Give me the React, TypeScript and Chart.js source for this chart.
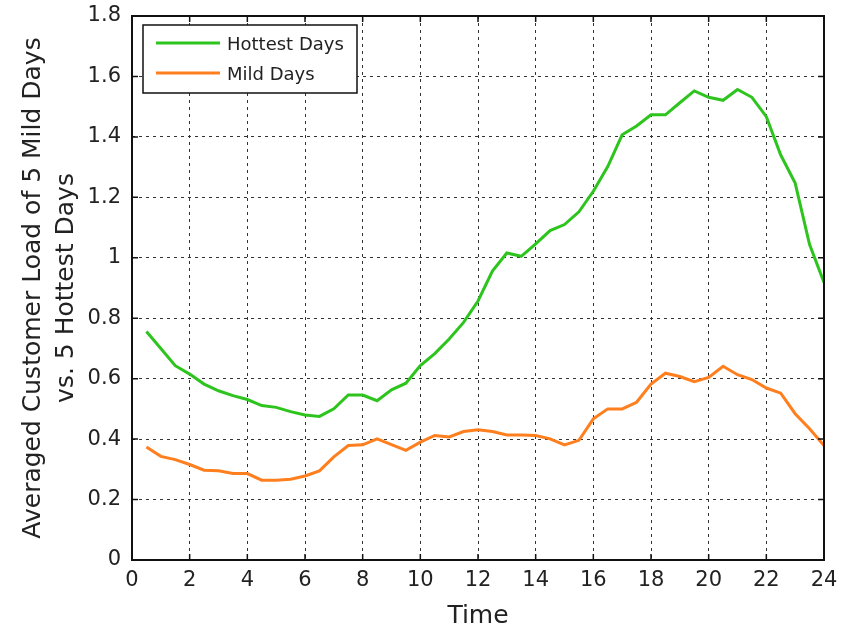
import React, { useEffect, useRef } from "react";
import { Chart, registerables } from "chart.js";

Chart.register(...registerables);

const times = [0.5, 1, 1.5, 2, 2.5, 3, 3.5, 4, 4.5, 5, 5.5, 6, 6.5, 7, 7.5, 8, 8.5, 9, 9.5, 10, 10.5, 11, 11.5, 12, 12.5, 13, 13.5, 14, 14.5, 15, 15.5, 16, 16.5, 17, 17.5, 18, 18.5, 19, 19.5, 20, 20.5, 21, 21.5, 22, 22.5, 23, 23.5, 24];

const hottestDays = [0.756, 0.700, 0.643, 0.615, 0.582, 0.560, 0.544, 0.531, 0.511, 0.505, 0.491, 0.480, 0.475, 0.500, 0.546, 0.546, 0.527, 0.563, 0.585, 0.643, 0.683, 0.731, 0.786, 0.857, 0.956, 1.016, 1.005, 1.046, 1.090, 1.110, 1.152, 1.220, 1.302, 1.407, 1.436, 1.473, 1.473, 1.513, 1.552, 1.531, 1.521, 1.557, 1.531, 1.467, 1.340, 1.247, 1.044, 0.918];

const mildDays = [0.374, 0.343, 0.332, 0.316, 0.297, 0.295, 0.286, 0.286, 0.264, 0.264, 0.267, 0.278, 0.295, 0.341, 0.379, 0.381, 0.401, 0.382, 0.363, 0.390, 0.412, 0.407, 0.425, 0.431, 0.425, 0.414, 0.414, 0.412, 0.401, 0.381, 0.396, 0.467, 0.500, 0.500, 0.522, 0.582, 0.618, 0.607, 0.590, 0.604, 0.641, 0.613, 0.597, 0.569, 0.552, 0.484, 0.434, 0.379];

const seriesNames = ["Hottest Days", "Mild Days"];
const seriesColors = ["#2ec41e", "#ff7f1e"];
const xTitle = "Time";
const yTitle = ["Averaged Customer Load of 5 Mild Days", "vs. 5 Hottest Days"];

const FONT = "'DejaVu Sans', 'Liberation Sans', Arial, sans-serif";

const framePlugin = {
  id: "framePlugin",
  afterDatasetsDraw(chart: any) {
    const { ctx, chartArea } = chart;
    const { left, right, top, bottom } = chartArea;
    ctx.save();
    // inward ticks
    ctx.strokeStyle = "#111";
    ctx.lineWidth = 1.5;
    const xs = chart.scales.x;
    const ys = chart.scales.y;
    const tl = 6;
    xs.ticks.forEach((t: any) => {
      const px = xs.getPixelForValue(t.value);
      ctx.beginPath();
      ctx.moveTo(px, bottom);
      ctx.lineTo(px, bottom - tl);
      ctx.moveTo(px, top);
      ctx.lineTo(px, top + tl);
      ctx.stroke();
    });
    ys.ticks.forEach((t: any) => {
      const py = ys.getPixelForValue(t.value);
      ctx.beginPath();
      ctx.moveTo(left, py);
      ctx.lineTo(left + tl, py);
      ctx.moveTo(right, py);
      ctx.lineTo(right - tl, py);
      ctx.stroke();
    });
    // frame
    ctx.strokeStyle = "#111";
    ctx.lineWidth = 2;
    ctx.strokeRect(left, top, right - left, bottom - top);
    // legend
    const lx = left + 11;
    const ly = top + 9;
    const lw = 214;
    const lh = 68;
    ctx.fillStyle = "#fff";
    ctx.fillRect(lx, ly, lw, lh);
    ctx.lineWidth = 1.5;
    ctx.strokeStyle = "#111";
    ctx.strokeRect(lx, ly, lw, lh);
    ctx.font = `18px ${FONT}`;
    ctx.textBaseline = "middle";
    ctx.textAlign = "left";
    seriesNames.forEach((name, i) => {
      const y = ly + 18 + i * 30;
      ctx.strokeStyle = seriesColors[i];
      ctx.lineWidth = 3;
      ctx.beginPath();
      ctx.moveTo(lx + 13, y);
      ctx.lineTo(lx + 77, y);
      ctx.stroke();
      ctx.fillStyle = "#222";
      ctx.fillText(name, lx + 84, y + 2);
    });
    ctx.restore();
  },
};

export default function App() {
  const ref = useRef<HTMLCanvasElement | null>(null);
  useEffect(() => {
    if (!ref.current) return;
    const chart = new Chart(ref.current, {
      type: "line",
      data: {
        datasets: [
          {
            label: seriesNames[0],
            data: times.map((t, i) => ({ x: t, y: hottestDays[i] })),
            borderColor: seriesColors[0],
            backgroundColor: seriesColors[0],
            borderWidth: 3,
            pointRadius: 0,
            tension: 0,
          },
          {
            label: seriesNames[1],
            data: times.map((t, i) => ({ x: t, y: mildDays[i] })),
            borderColor: seriesColors[1],
            backgroundColor: seriesColors[1],
            borderWidth: 3,
            pointRadius: 0,
            tension: 0,
          },
        ],
      },
      options: {
        responsive: false,
        animation: false,
        layout: { padding: { left: 0, top: 16, right: 19, bottom: 0 } },
        plugins: { legend: { display: false }, tooltip: { enabled: false } },
        scales: {
          x: {
            type: "linear",
            min: 0,
            max: 24,
            afterFit: (s: any) => {
              s.height = 73;
              s.paddingLeft = 0;
              s.paddingRight = 0;
            },
            ticks: {
              stepSize: 2,
              color: "#222",
              font: { family: FONT, size: 21 },
              padding: 8,
            },
            grid: {
              color: "#333",
              lineWidth: 1,
              drawTicks: false,
            },
            border: { display: false, dash: [3, 4] },
            title: {
              display: true,
              text: xTitle,
              color: "#222",
              font: { family: FONT, size: 25, lineHeight: 1.2 },
              padding: { top: 4, bottom: 2 },
            },
          },
          y: {
            min: 0,
            max: 1.8,
            afterFit: (s: any) => {
              s.width = 132;
              s.paddingTop = 0;
              s.paddingBottom = 0;
            },
            ticks: {
              stepSize: 0.2,
              color: "#222",
              font: { family: FONT, size: 21 },
              padding: 11,
              callback: (v: any) => String(Number(Number(v).toFixed(1))),
            },
            grid: {
              color: "#333",
              lineWidth: 1,
              drawTicks: false,
            },
            border: { display: false, dash: [3, 4] },
            title: {
              display: true,
              text: yTitle,
              color: "#222",
              font: { family: FONT, size: 25, lineHeight: 1.32 },
              padding: { top: 17, bottom: 8 },
            },
          },
        },
      },
      plugins: [framePlugin],
    } as any);
    return () => chart.destroy();
  }, []);
  return (
    <div style={{ position: "fixed", left: 0, top: 0, width: 843, height: 633, background: "#fff" }}>
      <canvas ref={ref} width={843} height={633} style={{ width: 843, height: 633 }} />
    </div>
  );
}
